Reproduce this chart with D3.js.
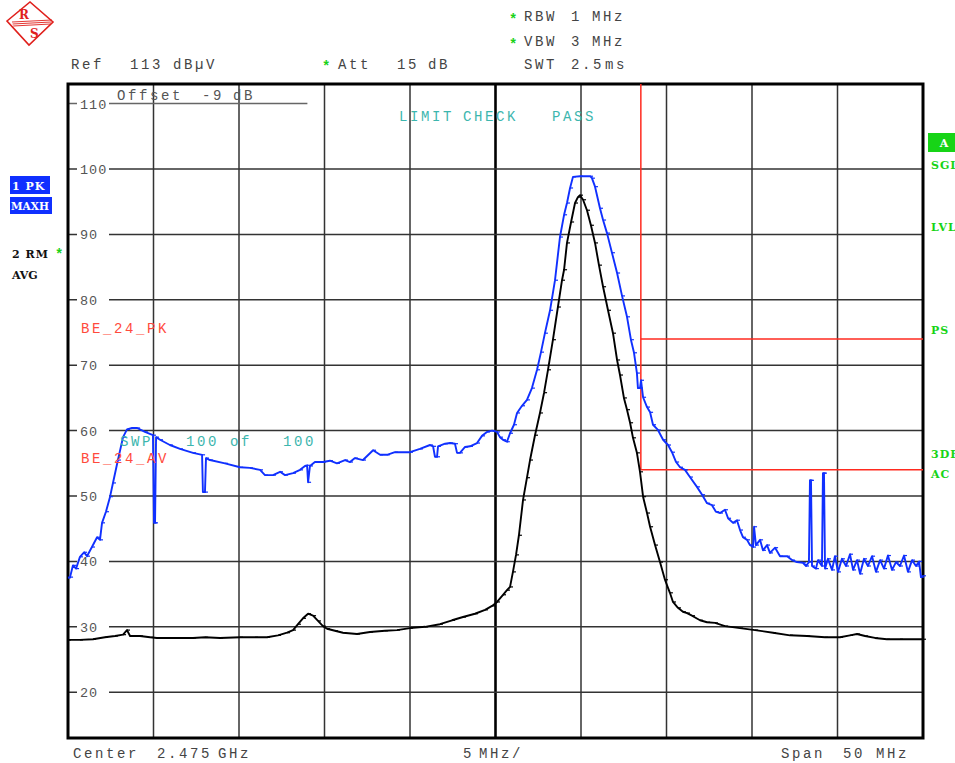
<!DOCTYPE html>
<html>
<head>
<meta charset="utf-8">
<script src="https://cdn.jsdelivr.net/npm/d3@7"></script>
<style>
  body { margin: 0; background: #fff; }
  svg text { font-family: 'Liberation Mono', 'Courier New', monospace; }
</style>
</head>
<body>
<svg id="chart" width="955" height="763"></svg>
<script>
// sweep settings
const startMHz = 2450;
const stopMHz = 2500;
const refLevel = 113;
const rangeDb = 100;
const freqTicks = d3.range(2450, 2501, 5);
const levelTicks = [20, 30, 40, 50, 60, 70, 80, 90, 100, 110];

// trace 1: PK, max hold  [MHz, dBuV]
const pkTrace = [
  [2450.00, 37.5], [2450.12, 37.6], [2450.29, 39.4], [2450.47, 38.9], [2450.70, 40.7],
  [2450.94, 41.4], [2451.11, 40.8], [2451.40, 42.2], [2451.70, 43.7], [2451.87, 43.3],
  [2451.99, 45.9], [2452.22, 47.6], [2452.46, 49.9], [2452.63, 52.0], [2452.92, 55.5],
  [2453.22, 59.0], [2453.45, 60.2], [2453.74, 60.4], [2454.04, 60.4], [2454.50, 59.8],
  [2454.97, 59.3], [2455.03, 45.9], [2455.09, 45.9], [2455.15, 59.0], [2455.38, 58.6],
  [2455.96, 57.8], [2456.55, 57.2], [2457.31, 56.6], [2457.84, 56.3], [2457.89, 50.6],
  [2458.01, 50.6], [2458.07, 55.8], [2458.30, 55.5], [2459.18, 55.0], [2460.06, 54.4],
  [2460.64, 54.3], [2461.23, 54.0], [2461.52, 53.2], [2461.99, 53.2], [2462.40, 53.7],
  [2462.69, 53.2], [2463.16, 53.5], [2463.57, 54.0], [2463.86, 54.6], [2463.98, 54.7],
  [2464.04, 52.1], [2464.15, 54.6], [2464.44, 55.2], [2464.91, 55.2], [2465.32, 55.4],
  [2465.73, 55.0], [2466.20, 55.5], [2466.49, 55.2], [2466.78, 55.8], [2467.25, 55.5],
  [2467.84, 57.0], [2468.25, 56.3], [2468.65, 56.3], [2469.12, 56.7], [2470.00, 56.7],
  [2470.58, 57.2], [2471.17, 57.8], [2471.35, 57.6], [2471.46, 56.0], [2471.58, 56.0],
  [2471.64, 57.6], [2472.05, 58.0], [2472.34, 58.1], [2472.63, 58.0], [2472.75, 56.6],
  [2472.92, 56.6], [2473.22, 57.5], [2473.51, 57.6], [2473.92, 58.1], [2474.21, 59.2],
  [2474.50, 59.8], [2474.80, 60.0], [2475.09, 59.8], [2475.26, 59.0], [2475.44, 58.6],
  [2475.67, 58.3], [2475.85, 59.6], [2476.08, 60.9], [2476.26, 62.7], [2476.55, 63.8],
  [2476.84, 64.7], [2477.13, 66.5], [2477.43, 69.3], [2477.66, 72.0], [2477.89, 74.9],
  [2478.19, 78.4], [2478.48, 83.0], [2478.77, 89.6], [2479.01, 93.0], [2479.18, 94.8],
  [2479.36, 97.1], [2479.53, 98.8], [2479.94, 98.9], [2480.53, 98.9], [2480.64, 98.6],
  [2480.82, 97.3], [2481.11, 94.0], [2481.29, 92.2], [2481.52, 90.2], [2481.81, 87.2],
  [2482.11, 84.1], [2482.40, 80.6], [2482.69, 77.4], [2482.92, 73.9], [2483.10, 71.9],
  [2483.27, 68.8], [2483.33, 66.5], [2483.45, 66.5], [2483.51, 67.7], [2483.63, 65.1],
  [2483.86, 63.6], [2484.04, 62.8], [2484.21, 60.9], [2484.50, 60.1], [2484.80, 58.6],
  [2485.09, 57.8], [2485.32, 56.7], [2485.56, 55.2], [2485.79, 54.4], [2486.08, 54.0],
  [2486.37, 52.9], [2486.78, 51.4], [2487.08, 50.2], [2487.37, 48.9], [2487.66, 48.6],
  [2487.89, 47.6], [2488.13, 47.4], [2488.42, 47.9], [2488.60, 46.6], [2488.89, 45.9],
  [2489.12, 46.3], [2489.30, 44.8], [2489.47, 43.7], [2489.71, 43.3], [2489.88, 42.5],
  [2490.06, 42.2], [2490.12, 45.3], [2490.23, 42.5], [2490.47, 43.3], [2490.64, 41.7],
  [2490.88, 42.5], [2491.05, 41.3], [2491.35, 42.1], [2491.64, 40.8], [2492.05, 40.8],
  [2492.34, 40.2], [2492.63, 39.9], [2492.98, 39.8], [2493.16, 39.3], [2493.33, 39.9],
  [2493.39, 52.4], [2493.45, 52.4], [2493.51, 39.3], [2493.74, 38.9], [2493.86, 40.2],
  [2494.09, 39.3], [2494.15, 53.5], [2494.21, 53.5], [2494.27, 38.9], [2494.44, 40.4],
  [2494.68, 38.7], [2494.85, 40.8], [2495.03, 38.4], [2495.26, 40.4], [2495.50, 39.3],
  [2495.73, 41.1], [2495.91, 38.7], [2496.14, 40.2], [2496.32, 38.1], [2496.55, 40.4],
  [2496.78, 39.3], [2497.02, 40.8], [2497.25, 38.4], [2497.49, 40.2], [2497.72, 38.9],
  [2497.95, 40.9], [2498.19, 38.7], [2498.42, 39.9], [2498.65, 39.3], [2498.89, 40.9],
  [2499.12, 38.4], [2499.36, 40.2], [2499.59, 39.3], [2499.77, 40.0], [2499.88, 37.6],
  [2500.00, 37.8]
];

// trace 2: RM, average  [MHz, dBuV]
const avTrace = [
  [2450.00, 28.0], [2450.70, 28.0], [2451.46, 28.1], [2452.16, 28.4], [2452.75, 28.6],
  [2453.22, 28.8], [2453.45, 29.5], [2453.63, 28.6], [2454.21, 28.6], [2454.80, 28.4],
  [2455.20, 28.3], [2456.26, 28.3], [2457.31, 28.3], [2458.01, 28.4], [2458.89, 28.3],
  [2460.06, 28.4], [2460.94, 28.4], [2461.64, 28.4], [2462.28, 28.7], [2462.81, 29.1],
  [2463.16, 29.5], [2463.45, 30.4], [2463.74, 31.3], [2464.04, 32.0], [2464.33, 31.7],
  [2464.62, 30.9], [2464.91, 30.1], [2465.15, 29.7], [2465.61, 29.4], [2466.08, 29.1],
  [2466.90, 28.9], [2467.66, 29.2], [2468.54, 29.4], [2469.24, 29.5], [2470.00, 29.8],
  [2470.88, 30.0], [2471.75, 30.4], [2472.46, 31.0], [2473.10, 31.5], [2473.80, 32.0],
  [2474.39, 32.6], [2474.80, 33.2], [2475.09, 33.8], [2475.44, 34.9], [2475.67, 35.6],
  [2475.85, 36.1], [2476.02, 38.4], [2476.20, 41.0], [2476.37, 44.0], [2476.61, 49.4],
  [2476.84, 52.8], [2477.02, 55.5], [2477.31, 59.3], [2477.60, 62.7], [2477.84, 65.8],
  [2478.07, 69.3], [2478.36, 73.9], [2478.65, 78.9], [2478.89, 83.0], [2479.01, 84.6],
  [2479.18, 88.7], [2479.42, 91.9], [2479.65, 94.8], [2479.82, 95.7], [2479.94, 96.0],
  [2480.12, 95.3], [2480.35, 93.7], [2480.58, 91.4], [2480.82, 88.7], [2481.05, 85.3],
  [2481.29, 82.0], [2481.58, 78.4], [2481.87, 74.9], [2482.11, 70.8], [2482.28, 68.5],
  [2482.51, 65.0], [2482.69, 63.2], [2482.87, 61.2], [2483.04, 58.9], [2483.27, 56.6],
  [2483.45, 53.7], [2483.63, 49.9], [2483.86, 47.4], [2484.04, 45.3], [2484.33, 42.5],
  [2484.62, 39.9], [2484.91, 37.2], [2485.20, 35.2], [2485.38, 33.8], [2485.67, 32.9],
  [2485.96, 32.3], [2486.20, 32.1], [2486.49, 31.7], [2486.96, 31.0], [2487.37, 30.7],
  [2487.84, 30.6], [2488.42, 30.1], [2489.30, 29.8], [2490.18, 29.5], [2491.23, 29.1],
  [2492.22, 28.7], [2493.22, 28.6], [2494.27, 28.4], [2495.15, 28.4], [2495.73, 28.7],
  [2496.14, 28.9], [2496.61, 28.6], [2497.19, 28.3], [2497.89, 28.1], [2498.65, 28.1],
  [2500.00, 28.1]
];

// limit lines (restricted band edge 2483.5 MHz)
const limitEdge = [[2483.5, 113], [2483.5, 54]];
const pkLimit = [[2483.5, 74], [2500, 74]];
const avLimit = [[2483.5, 54], [2500, 54]];

const svg = d3.select('#chart');

const x = d3.scaleLinear().domain([startMHz, stopMHz]).range([68, 923]);
const y = d3.scaleLinear().domain([refLevel - rangeDb, refLevel]).range([738, 84]);

// grid
const grid = svg.append('g').attr('id', 'grid');

grid
  .selectAll('line.vgrid')
  .data(freqTicks.filter((f) => f > startMHz && f < stopMHz))
  .enter()
  .append('line')
  .attr('class', 'vgrid')
  .attr('x1', (d) => x(d))
  .attr('x2', (d) => x(d))
  .attr('y1', y(refLevel))
  .attr('y2', y(refLevel - rangeDb))
  .attr('stroke', (d) => (d === 2475 ? '#000' : '#333'))
  .attr('stroke-width', (d) => (d === 2475 ? 2.6 : 1.5));

grid
  .selectAll('line.hgrid')
  .data(levelTicks)
  .enter()
  .append('line')
  .attr('class', 'hgrid')
  .attr('x1', x(startMHz))
  // top line only runs under the offset note
  .attr('x2', (d) => (d === 110 ? x(2464) : x(stopMHz)))
  .attr('y1', (d) => y(d))
  .attr('y2', (d) => y(d))
  .attr('stroke', (d) => (d === 110 ? '#666' : '#333'))
  .attr('stroke-width', 1.5);

grid
  .selectAll('rect.tick-bg')
  .data(levelTicks)
  .enter()
  .append('rect')
  .attr('class', 'tick-bg')
  .attr('x', 77)
  .attr('y', (d) => y(d) - 5)
  .attr('width', 32)
  .attr('height', 10)
  .attr('fill', '#fff');

grid
  .selectAll('text.tick')
  .data(levelTicks)
  .enter()
  .append('text')
  .attr('class', 'tick')
  .attr('x', 80)
  .attr('y', (d) => y(d) + 5)
  .attr('font-size', 13.5)
  .attr('letter-spacing', 1)
  .attr('fill', '#555')
  .text((d) => d);

// frame
svg
  .append('rect')
  .attr('x', x(startMHz))
  .attr('y', y(refLevel))
  .attr('width', x(stopMHz) - x(startMHz))
  .attr('height', y(refLevel - rangeDb) - y(refLevel))
  .attr('fill', 'none')
  .attr('stroke', '#000')
  .attr('stroke-width', 3);

// limit lines
const line = d3
  .line()
  .x((d) => x(d[0]))
  .y((d) => y(d[1]));

svg
  .selectAll('path.limit')
  .data([limitEdge, pkLimit, avLimit])
  .enter()
  .append('path')
  .attr('class', 'limit')
  .attr('d', line)
  .attr('fill', 'none')
  .attr('stroke', '#ff2a1f')
  .attr('stroke-width', 1.5);

// traces
function drawTrace(data, color) {
  svg
    .append('path')
    .attr('d', line(data))
    .attr('fill', 'none')
    .attr('stroke', color)
    .attr('stroke-width', 1.9)
    .attr('stroke-linejoin', 'round');

  svg
    .append('g')
    .selectAll('line')
    .data(data)
    .enter()
    .append('line')
    .attr('x1', (d) => x(d[0]))
    .attr('x2', (d) => x(d[0]) + 3)
    .attr('y1', (d) => y(d[1]))
    .attr('y2', (d) => y(d[1]))
    .attr('stroke', color)
    .attr('stroke-width', 1.2);
}

drawTrace(avTrace, '#000');
drawTrace(pkTrace, '#1030ff');

// texts
function label(str, px, py, color, opts = {}) {
  return svg
    .append('text')
    .attr('x', px)
    .attr('y', py)
    .attr('fill', color)
    .attr('font-size', opts.size || 14)
    .attr('letter-spacing', opts.ls ?? 2.6)
    .attr('font-weight', opts.weight || 'normal')
    .attr('text-anchor', opts.anchor || 'start')
    .style('font-family', opts.family || null)
    .text(str);
}

function star(px, py) {
  label('*', px, py, '#19d219', { size: 14, ls: 0, weight: 'bold' });
}

const head = '#444';
label('Ref', 71, 69, head);
label('113', 130, 69, head);
label('dBµV', 173, 69, head);
star(322, 71);
label('Att', 338, 69, head);
label('15', 397, 69, head);
label('dB', 428, 69, head);
star(509, 24);
label('RBW', 524, 21, head);
label('1', 571, 21, head);
label('MHz', 592, 21, head);
star(509, 49);
label('VBW', 524, 46, head);
label('3', 571, 46, head);
label('MHz', 592, 46, head);
label('SWT', 524, 69, head);
label('2.5', 571, 69, head);
label('ms', 605, 69, head);

label('Center', 73, 758, head);
label('2.475', 157, 758, head);
label('GHz', 218, 758, head);
label('5', 463, 758, head);
label('MHz/', 479, 758, head);
label('Span', 781, 758, head);
label('50', 843, 758, head);
label('MHz', 876, 758, head);

label('Offset', 117, 100, '#555');
label('-9', 202, 100, '#555');
label('dB', 233, 100, '#555');

const teal = '#3cb6ae';
label('LIMIT', 399, 121, teal);
label('CHECK', 463, 121, teal);
label('PASS', 552, 121, teal);
label('SWP', 120, 446, teal);
label('100', 186, 446, teal);
label('of', 230, 446, teal);
label('100', 283, 446, teal);

label('BE_24_PK', 81, 333, '#ff4a3c');
label('BE_24_AV', 81, 463, '#ff4a3c');

// trace info on the left
const serif = "'DejaVu Serif', serif";
svg.append('rect').attr('x', 10).attr('y', 176).attr('width', 40).attr('height', 18).attr('fill', '#1030ff');
svg.append('rect').attr('x', 10).attr('y', 197).attr('width', 42).attr('height', 17).attr('fill', '#1030ff');
label('1 PK', 12, 190, '#fff', { size: 11, ls: 1, weight: 'bold', family: serif });
label('MAXH', 11, 210, '#fff', { size: 10.5, ls: 0, weight: 'bold', family: serif });
label('2 RM', 12, 258, '#111', { size: 11, ls: 1, weight: 'bold', family: serif });
star(55, 259);
label('AVG', 12, 279, '#111', { size: 11, ls: 0, weight: 'bold', family: serif });

// status markers on the right (cut at the window edge, as on the instrument)
const green = '#17d417';
svg.append('rect').attr('x', 928).attr('y', 133).attr('width', 30).attr('height', 19).attr('fill', green);
label('A', 944, 147, '#fff', { size: 11, ls: 0, weight: 'bold', family: serif, anchor: 'middle' });
label('SGL', 931, 169, green, { size: 11, ls: 1, weight: 'bold', family: serif });
label('LVL', 931, 231, green, { size: 11, ls: 1, weight: 'bold', family: serif });
label('PS', 931, 334, green, { size: 11, ls: 1, weight: 'bold', family: serif });
label('3DB', 931, 458, green, { size: 11, ls: 1, weight: 'bold', family: serif });
label('AC', 931, 478, green, { size: 11, ls: 1, weight: 'bold', family: serif });

// R&S logo
const logo = svg.append('g').attr('stroke', '#e0201c').attr('fill', 'none');
logo.append('path').attr('d', 'M7,21 L30,2 L53,22 L29,45 Z').attr('stroke-width', 1.6);
[0, 2, 4].forEach((k) => {
  logo
    .append('line')
    .attr('x1', 12 + k * 0.3)
    .attr('y1', 22 + k)
    .attr('x2', 52 - k * 0.3)
    .attr('y2', 20 + k)
    .attr('stroke-width', 0.9);
});
svg.append('text').attr('x', 19).attr('y', 19).attr('fill', '#e0201c')
  .attr('font-size', 12).attr('font-weight', 'bold').style('font-family', serif).text('R');
svg.append('text').attr('x', 30).attr('y', 38).attr('fill', '#e0201c')
  .attr('font-size', 12).attr('font-weight', 'bold').style('font-family', serif).text('S');
</script>
</body>
</html>
